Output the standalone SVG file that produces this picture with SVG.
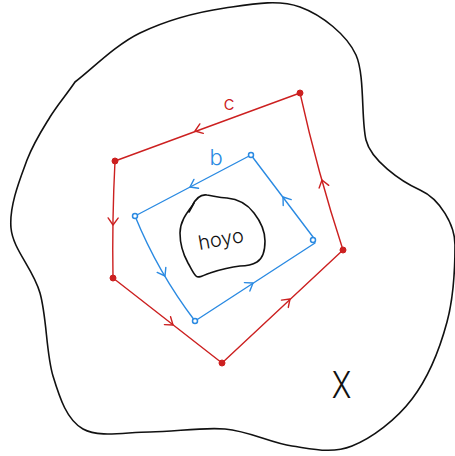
<svg xmlns="http://www.w3.org/2000/svg" width="455" height="456" viewBox="0 0 455 456">
<style>
.outline{fill:none;stroke:#111;stroke-width:1.6;stroke-linecap:round;stroke-linejoin:round}
.red{fill:none;stroke:#cc2020;stroke-width:1.4;stroke-linecap:round;stroke-linejoin:round}
.blue{fill:none;stroke:#2a8ae2;stroke-width:1.4;stroke-linecap:round;stroke-linejoin:round}
.rdot{fill:#cc2020;stroke:#cc2020;stroke-width:1}
.bdot{fill:#fff;stroke:#2a8ae2;stroke-width:1.5}
.lbl{font-family:Inter,"Liberation Sans","DejaVu Sans",sans-serif;font-weight:300}
</style>
<defs>
<path id="chev" d="M-7,-5 L0,0 L-7,5"/>
</defs>
<rect width="455" height="456" fill="#fff"/>
<g id="space-X">
<path class="outline" d="M75,82 C90,71 115,45 140,33 C165,21 198,12 225,8 C252,4 278,-1 300,7 C322,15 347,35 356,55 C365,75 361,120 366,140 C371,160 400,181 420,190 C440,199 455,225 455,245 C455,265 454,296 447,322 C440,348 428,378 412,399 C396,420 372,438 352,446 C332,454 313,449 292,446 C271,443 249,431 225,429 C201,427 174,432 150,432 C126,432 99,438 83,429 C67,420 60,399 53,376 C46,353 47,318 40,293 C33,268 13,250 11,228 C9,206 20,179 27,160 C34,142 42,130 50,117 C58,104 67,94 75,82"/>
<text class="lbl" transform="translate(341.5,398) scale(0.8,1)" text-anchor="middle" font-size="37" style="font-weight:300" fill="#111">X</text>
</g>
<g id="hoyo">
<path class="outline" d="M192,206 C196,198 201,194 207,195 C214,196 219,198 227,198 C238,199 248,205 254,213 C261,222 265,230 265,241 C265,252 262,259 257,262 C252,265 246,266 240,266 C230,267 219,270 210,273 C203,275 199,279 196,276 C193,273 191,268 188,263 C183,254 180,245 180,233 C180,222 186,214 192,206 Z"/>
<path class="outline" d="M189,212 L194,203"/>
<text class="lbl" transform="rotate(-10,221,240)" x="221" y="246" text-anchor="middle" font-size="20" fill="#111">hoyo</text>
</g>
<g id="connectors">
<g id="loop-c">
<path class="red" d="M300,93 L115,161 Q112,220 113,278 L222,363 L343,250 Q317.5,172 300,93"/>
<use href="#chev" class="red" transform="translate(195,131) rotate(160)"/>
<use href="#chev" class="red" transform="translate(113,225) rotate(91)"/>
<use href="#chev" class="red" transform="translate(173,325) rotate(38)"/>
<use href="#chev" class="red" transform="translate(290,299) rotate(-43)"/>
<use href="#chev" class="red" transform="translate(322,180) rotate(-106)"/>
<text class="lbl" x="229" y="110" text-anchor="middle" font-size="20" fill="#cc2020">c</text>
</g>
<g id="loop-b">
<path class="blue" d="M251,155 L135,216 Q158,272.5 195,321 L315,243"/>
<path class="blue" d="M313,237 L251,155"/>
<use href="#chev" class="blue" transform="translate(190,187) rotate(153)"/>
<use href="#chev" class="blue" transform="translate(165,276) rotate(60)"/>
<use href="#chev" class="blue" transform="translate(253,283) rotate(-33)"/>
<use href="#chev" class="blue" transform="translate(283,197) rotate(-127)"/>
<text class="lbl" x="216" y="165" text-anchor="middle" font-size="22" fill="#2a8ae2">b</text>
</g>
</g>
<g id="vertices-c">
<circle class="rdot" cx="300" cy="93" r="3"/>
<circle class="rdot" cx="115" cy="161" r="3"/>
<circle class="rdot" cx="113" cy="278" r="3"/>
<circle class="rdot" cx="222" cy="363" r="3"/>
<circle class="rdot" cx="343" cy="250" r="3"/>
</g>
<g id="vertices-b">
<circle class="bdot" cx="251" cy="155" r="2.5"/>
<circle class="bdot" cx="135" cy="216" r="2.5"/>
<circle class="bdot" cx="195" cy="321" r="2.5"/>
<circle class="bdot" cx="313" cy="240" r="2.5"/>
</g>
</svg>
